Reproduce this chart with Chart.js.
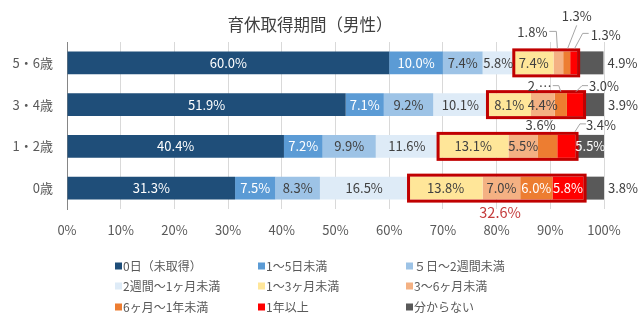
<!DOCTYPE html>
<html lang="ja">
<head>
<meta charset="utf-8">
<title>育休取得期間（男性）</title>
<script src="https://cdn.jsdelivr.net/npm/chart.js@4.4.1/dist/chart.umd.min.js"></script>
<style>
    html, body { margin: 0; padding: 0; background: #fff; }
    #wrap { width: 640px; height: 321px; position: relative; }
</style>
</head>
<body>
<div id="wrap"><canvas id="chartLeave"></canvas></div>
<script>
// ===== data (読み取り値, %)
const categories = ["5・6歳", "3・4歳", "1・2歳", "0歳"];
const seriesNames = [
    "0日（未取得）", "1～5日未満", "５日～2週間未満",
    "2週間～1ヶ月未満", "1～3ヶ月未満", "3～6ヶ月未満",
    "6ヶ月～1年未満", "1年以上", "分からない",
];
const days0 = [60.0, 51.9, 40.4, 31.3];
const days1to5 = [10.0, 7.1, 7.2, 7.5];
const days5to2w = [7.4, 9.2, 9.9, 8.3];
const weeks2to1m = [5.8, 10.1, 11.6, 16.5];
const months1to3 = [7.4, 8.1, 13.1, 13.8];
const months3to6 = [1.8, 4.4, 5.5, 7.0];
const months6to1y = [1.3, 2.3, 3.6, 6.0];
const year1plus = [1.3, 3.0, 3.4, 5.8];
const unknown = [4.9, 3.9, 5.5, 3.8];
const xTickLabels = ["0%", "10%", "20%", "30%", "40%", "50%", "60%", "70%", "80%", "90%", "100%"];

const seriesValues = [days0, days1to5, days5to2w, weeks2to1m, months1to3, months3to6, months6to1y, year1plus, unknown];

// ===== styles
const FONT = "'Noto Sans CJK JP', 'Noto Sans', sans-serif";
const colors = ["#1F4E79", "#5B9BD5", "#9DC3E6", "#DEEBF7", "#FFE699", "#F4B183", "#ED7D31", "#FF0000", "#595959"];
const labelColors = ["#fff", "#fff", "#404040", "#404040", "#404040", "#404040", "#fff", "#fff", "#fff"];
const BOX_FROM = 4; // 1～3ヶ月未満
const BOX_TO = 7;   // 1年以上

// 小さい区間のラベル: セグメント中心からのずらし + 引き出し線
const callouts = {
    "5:0": { dx: -26, dy: -30.5, line: [[-9, -31.5], [-2, -31.5], [-1, -14.5]] },
    "6:0": { dx: 10, dy: -46.5, line: [[10, -37.5], [1, -14.5]] },
    "7:0": { dx: 32, dy: -27.5, line: [[15, -29.5], [9, -29.5], [1, -14.5]] },
    "6:1": { dx: -21, dy: -19, text: "2.…", line: [[-8, -19], [-2, -19], [0, -13]] },
    "7:1": { dx: 29, dy: -19, line: [[13, -19], [7, -19], [1, -13]] },
    "6:2": { dx: -7, dy: -21.5 },
    "7:2": { dx: 34.5, dy: -21.5, line: [[19.5, -22.5], [13.5, -22.5], [8.5, -14.5]] },
    "8:0": { end: true },
    "8:1": { end: true },
    "8:3": { end: true },
};

// ===== plugin: 赤枠 + データラベル + 合計 + タイトル + 凡例
const decorPlugin = {
    id: "decor",
    afterDatasetsDraw(chart) {
        const ctx = chart.ctx;
        const first = chart.getDatasetMeta(BOX_FROM);
        const last = chart.getDatasetMeta(BOX_TO);

        // red frames
        ctx.save();
        ctx.strokeStyle = "#C00000";
        ctx.lineWidth = 3;
        categories.forEach((c, i) => {
            const a = first.data[i];
            const b = last.data[i];
            const top = a.y - a.height / 2;
            ctx.strokeRect(a.base, top - 1.5, b.x - a.base + 1.5, a.height + 3);
        });
        ctx.restore();

        // labels
        ctx.save();
        ctx.font = "13px " + FONT;
        ctx.textBaseline = "middle";
        chart.data.datasets.forEach((ds, di) => {
            const meta = chart.getDatasetMeta(di);
            meta.data.forEach((el, i) => {
                const v = ds.data[i];
                const cx = (el.base + el.x) / 2;
                const cy = el.y;
                const co = callouts[di + ":" + i];
                let text = v.toFixed(1) + "%";
                if (co && co.text) text = co.text;

                if (co && co.end) {
                    ctx.fillStyle = "#404040";
                    ctx.textAlign = "left";
                    ctx.fillText(text, el.x + 4, cy);
                    return;
                }
                if (co) {
                    if (co.line) {
                        ctx.strokeStyle = "#A6A6A6";
                        ctx.lineWidth = 1;
                        ctx.beginPath();
                        co.line.forEach((p, k) => {
                            const px = cx + p[0], py = cy + p[1];
                            k ? ctx.lineTo(px, py) : ctx.moveTo(px, py);
                        });
                        ctx.stroke();
                    }
                    ctx.fillStyle = "#404040";
                    ctx.textAlign = "center";
                    ctx.fillText(text, cx + co.dx, cy + co.dy);
                    return;
                }
                ctx.fillStyle = labelColors[di];
                ctx.textAlign = "center";
                ctx.fillText(text, cx, cy);
            });
        });

        // 0歳 の合計 (1～3ヶ月 ～ 1年以上)
        const row = categories.length - 1;
        let sum = 0;
        for (let d = BOX_FROM; d <= BOX_TO; d++) sum += seriesValues[d][row];
        const a = first.data[row];
        const b = last.data[row];
        ctx.font = "14.5px " + FONT;
        ctx.fillStyle = "#C43C3C";
        ctx.textAlign = "center";
        ctx.fillText(sum.toFixed(1) + "%", (a.base + b.x) / 2 + 4, a.y + a.height / 2 + 12.5);
        ctx.restore();
    },
    afterDraw(chart) {
        const ctx = chart.ctx;
        ctx.save();
        // title
        ctx.font = "16.5px " + FONT;
        ctx.fillStyle = "#404040";
        ctx.textAlign = "center";
        ctx.textBaseline = "middle";
        ctx.fillText("育休取得期間（男性）", 310, 25);

        // legend 3列
        const colX = [115, 258, 406];
        const rowY = [266, 286, 307];
        ctx.font = "12px " + FONT;
        ctx.textAlign = "left";
        chart.data.datasets.forEach((ds, i) => {
            const x = colX[i % 3];
            const y = rowY[Math.floor(i / 3)];
            ctx.fillStyle = ds.backgroundColor;
            ctx.fillRect(x, y - 3.5, 7, 7);
            ctx.fillStyle = "#595959";
            ctx.fillText(ds.label, x + 8, y);
        });
        ctx.restore();
    },
};

function renderChart() {
    const el = document.getElementById("chartLeave");
    const existing = Chart.getChart(el);
    if (existing) existing.destroy();

    return new Chart(el, {
        type: "bar",
        data: {
            labels: categories,
            datasets: seriesNames.map((name, i) => ({
                label: name,
                data: seriesValues[i],
                backgroundColor: colors[i],
                borderWidth: 0,
                barPercentage: 0.55,
                categoryPercentage: 1,
            })),
        },
        options: {
            indexAxis: "y",
            responsive: true,
            maintainAspectRatio: false,
            animation: false,
            layout: { padding: { top: 42, right: 36, bottom: 81, left: 0 } },
            scales: {
                x: {
                    stacked: true,
                    min: 0,
                    max: 100,
                    ticks: {
                        stepSize: 10,
                        padding: 13,
                        color: "#595959",
                        font: { family: FONT, size: 13 },
                        callback: (v, i) => xTickLabels[i],
                    },
                    grid: {
                        color: (c) => (c.tick && c.tick.value === 0 ? "#868686" : "#D9D9D9"),
                        drawTicks: false,
                    },
                    border: { display: false },
                    afterFit: (s) => { s.height = 31; },
                },
                y: {
                    stacked: true,
                    ticks: {
                        padding: 14,
                        color: "#595959",
                        font: { family: FONT, size: 13 },
                    },
                    grid: { display: false, drawTicks: false },
                    border: { color: "#868686", width: 1 },
                    afterFit: (s) => { s.width = 67; },
                },
            },
            plugins: {
                legend: { display: false },
                title: { display: false },
                tooltip: { enabled: false },
            },
        },
        plugins: [decorPlugin],
    });
}

document.addEventListener("DOMContentLoaded", renderChart, { once: true });
</script>
</body>
</html>
